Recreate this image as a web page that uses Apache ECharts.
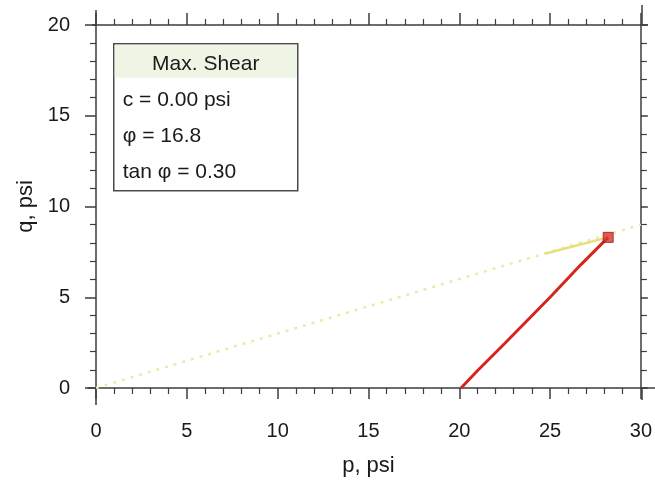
<!DOCTYPE html>
<html>
<head>
<meta charset="utf-8">
<script src="https://cdn.jsdelivr.net/npm/echarts@6/dist/echarts.min.js"></script>
<style>
  html, body { margin: 0; padding: 0; background: #fff; }
  #chart { width: 655px; height: 485px; }
</style>
</head>
<body>
<div id="chart"></div>
<script>
// valores
var eixoXMin = 0, eixoXMax = 30, eixoXPasso = 5;
var eixoYMin = 0, eixoYMax = 20, eixoYPasso = 5;
var linhaRuptura = [[0, 0], [30, 9.0]];
var linhaRupturaForte = [[24.7, 7.4], [28.2, 8.3]];
var trajetoria = [[20.1, 0], [21.0, 0.95], [22.5, 2.45], [25.0, 5.0], [26.7, 6.8], [28.2, 8.3]];
var pontoFinal = [[28.2, 8.3]];
var legendaTitulo = 'Max. Shear';
var legendaLinhas = ['c = 0.00 psi', 'φ = 16.8', 'tan φ = 0.30'];

var fonte = '"Liberation Sans", Arial, sans-serif';
var corEixo = '#3d3d3d';

var chart = echarts.init(document.getElementById('chart'), null, { renderer: 'canvas' });

function eixoBase(extra) {
    var base = {
        type: 'value',
        axisLine: { show: true, onZero: false, lineStyle: { color: corEixo, width: 1.5 } },
        axisTick: { show: true, inside: false, length: 11, lineStyle: { color: corEixo, width: 1.5 } },
        minorTick: { show: true, splitNumber: 5, length: 6, lineStyle: { color: corEixo, width: 1.2 } },
        splitLine: { show: false },
        minorSplitLine: { show: false }
    };
    return Object.assign(base, extra);
}

var grupoLegenda = [
    { type: 'rect', shape: { x: 0, y: 0, width: 184, height: 147 },
      style: { fill: '#fff', stroke: '#4a4a4a', lineWidth: 1.5 } },
    { type: 'rect', shape: { x: 1, y: 1, width: 182, height: 33 },
      style: { fill: '#eef5e4' } },
    { type: 'text', x: 92, y: 20,
      style: { text: legendaTitulo, fill: '#1a1a1a', font: '21px ' + fonte, align: 'center', verticalAlign: 'middle' } }
];
legendaLinhas.forEach(function (t, i) {
    grupoLegenda.push({ type: 'text', x: 9, y: 56 + i * 36,
        style: { text: t, fill: '#1a1a1a', font: '21px ' + fonte, align: 'left', verticalAlign: 'middle' } });
});

// prolongamentos das linhas dos eixos (como no original)
function traco(x1, y1, x2, y2) {
    return { type: 'line', shape: { x1: x1, y1: y1, x2: x2, y2: y2 },
             style: { stroke: corEixo, lineWidth: 1.5 }, silent: true };
}

var option = {
    backgroundColor: '#fff',
    animation: false,
    grid: { left: 96, right: 13, top: 25, bottom: 97, containLabel: false },
    xAxis: [
        eixoBase({
            position: 'bottom', min: eixoXMin, max: eixoXMax, interval: eixoXPasso,
            name: 'p, psi', nameLocation: 'middle', nameGap: 67,
            nameTextStyle: { fontSize: 22, color: '#1a1a1a', fontFamily: fonte },
            axisLabel: { fontSize: 20, color: '#1a1a1a', fontFamily: fonte, margin: 33 }
        }),
        eixoBase({
            position: 'top', min: eixoXMin, max: eixoXMax, interval: eixoXPasso,
            axisTick: { show: true, inside: false, length: 12, lineStyle: { color: corEixo, width: 1.5 } },
            axisLabel: { show: false }
        })
    ],
    yAxis: [
        eixoBase({
            position: 'left', min: eixoYMin, max: eixoYMax, interval: eixoYPasso,
            name: 'q, psi', nameLocation: 'middle', nameGap: 58,
            nameTextStyle: { fontSize: 22, color: '#1a1a1a', fontFamily: fonte },
            axisLabel: { fontSize: 20, color: '#1a1a1a', fontFamily: fonte, margin: 26 }
        }),
        eixoBase({
            position: 'right', min: eixoYMin, max: eixoYMax, interval: eixoYPasso,
            axisTick: { show: true, inside: false, length: 7, lineStyle: { color: corEixo, width: 1.5 } },
            axisLabel: { show: false }
        })
    ],
    graphic: [
        { type: 'group', left: 113, top: 43, children: grupoLegenda },
        traco(96, 10, 96, 25), traco(96, 388, 96, 405),
        traco(88, 388, 96, 388), traco(642, 388, 655, 388),
        traco(642, 5, 642, 25), traco(642, 388, 642, 400),
        traco(92, 25, 96, 25), traco(642, 25, 648, 25)
    ],
    series: [
        {
            type: 'line', data: linhaRuptura, symbol: 'none',
            lineStyle: { color: '#f0e9a6', width: 2.5, type: [3, 6] }, z: 2
        },
        {
            type: 'line', data: linhaRupturaForte, symbol: 'none',
            lineStyle: { color: '#e6df7c', width: 2.5 }, z: 3
        },
        {
            type: 'line', data: trajetoria, symbol: 'none', smooth: false,
            lineStyle: { color: '#d4261c', width: 3 }, z: 4
        },
        {
            type: 'scatter', data: pontoFinal, symbol: 'rect', symbolSize: 10,
            itemStyle: { color: '#d8342a', borderColor: '#8a1a14', borderWidth: 1 }, z: 5
        }
    ]
};

chart.setOption(option);
</script>
</body>
</html>
